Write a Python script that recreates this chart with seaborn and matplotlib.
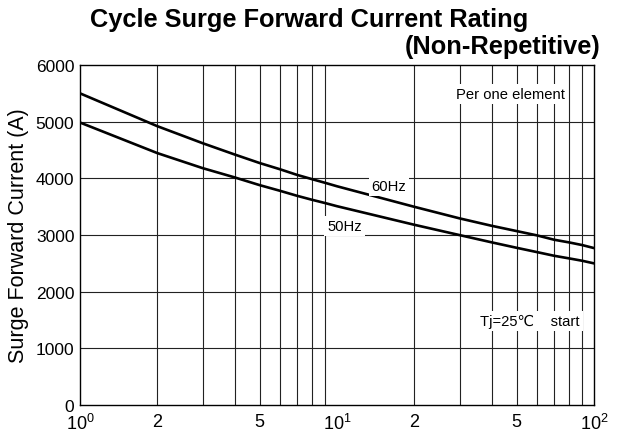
import pandas as pd
import seaborn as sns
import matplotlib.pyplot as plt
import numpy as np

# Values (at each grid line)
cycles = [1, 2, 3, 4, 5, 6, 7, 8, 9, 10, 20, 30, 40, 50, 60, 70, 80, 90, 100]
amps_60hz = [5500, 4920, 4620, 4420, 4270, 4160, 4060, 3985, 3920, 3860,
             3497, 3293, 3162, 3069, 2993, 2916, 2869, 2822, 2769]
amps_50hz = [4985, 4445, 4180, 4016, 3880, 3780, 3691, 3621, 3563, 3508,
             3180, 2998, 2870, 2774, 2698, 2633, 2587, 2545, 2499]
x_ticks = [1, 2, 5, 10, 20, 50, 100]
x_tick_labels = ['$10^0$', '2', '5', '$10^1$', '2', '5', '$10^2$']
y_ticks = [0, 1000, 2000, 3000, 4000, 5000, 6000]

df = pd.DataFrame({
    'cycles': cycles * 2,
    'current': amps_60hz + amps_50hz,
    'freq': ['60Hz'] * len(cycles) + ['50Hz'] * len(cycles),
})

sns.set_style("white", {'text.color': 'black', 'axes.labelcolor': 'black',
                        'xtick.color': 'black', 'ytick.color': 'black'})
plt.rcParams['font.family'] = ['Liberation Sans', 'DejaVu Sans']
plt.rcParams['mathtext.fontset'] = 'custom'
plt.rcParams['mathtext.rm'] = 'Liberation Sans'

fig = plt.figure(figsize=(6.19, 4.35), dpi=100)
ax = fig.add_axes([0.1292, 0.0667, 0.8304, 0.7816])

# grid lines (every decade subdivision)
minor = [v * d for d in (1, 10) for v in range(2, 10)]
for v in minor:
    ax.axvline(v, color='#222222', lw=0.8, zorder=1)
for v in y_ticks[1:-1]:
    ax.axhline(v, color='#222222', lw=0.8, zorder=1)

sns.lineplot(data=df, x='cycles', y='current', hue='freq',
             palette={'60Hz': 'black', '50Hz': 'black'},
             lw=1.9, legend=False, ax=ax, zorder=3)

ax.set_xscale('log')
ax.set_xlim(1, 100)
ax.set_ylim(0, 6000)
ax.set_xticks(x_ticks)
ax.set_xticklabels(x_tick_labels, fontsize=13)
ax.set_xticks([], minor=True)
ax.set_yticks(y_ticks)
ax.set_yticklabels([str(v) for v in y_ticks], fontsize=12.5)
ax.tick_params(axis='y', length=0, pad=4)
ax.tick_params(axis='x', length=0, pad=6)
for s in ax.spines.values():
    s.set_color('black')
    s.set_linewidth(1)
ax.set_xlabel('')
ax.set_ylabel('Surge Forward Current (A)', fontsize=15.5, labelpad=5)

box = dict(facecolor='white', edgecolor='none', pad=2)
fs = 10.6
ax.text(47.5, 5485, 'Per one element', fontsize=fs, ha='center', va='center', bbox=box, zorder=4)
ax.text(15.9, 3868, '60Hz', fontsize=fs, ha='center', va='center', bbox=box, zorder=4)
ax.text(10.7, 3162, '50Hz', fontsize=fs, ha='center', va='center', bbox=box, zorder=4)
ax.text(56.4, 1487, 'Tj=25\u2103    start', fontsize=fs, ha='center', va='center', bbox=box, zorder=4)

fig.text(0.50, 0.955, 'Cycle Surge Forward Current Rating', fontsize=18.3,
         fontweight='bold', ha='center', va='center')
fig.text(0.97, 0.893, '(Non-Repetitive)', fontsize=18.3,
         fontweight='bold', ha='right', va='center')

fig.savefig('out.png', dpi=100)
